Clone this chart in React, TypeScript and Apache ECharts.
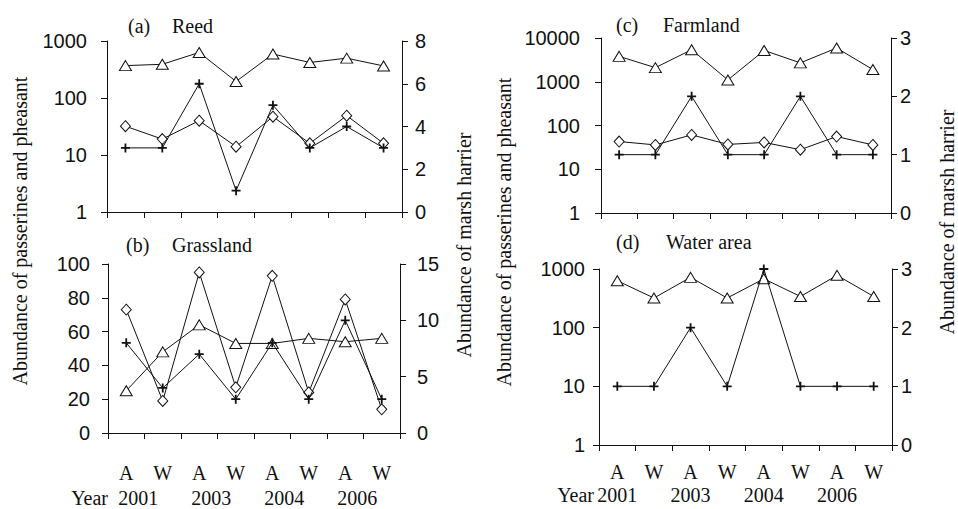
import React, { useEffect, useRef } from 'react';
import * as echarts from 'echarts';

// ---- data ----
const seasons = ['A', 'W', 'A', 'W', 'A', 'W', 'A', 'W'];
const yearLabels = ['2001', '', '2003', '', '2004', '', '2006', ''];
const yearWord = 'Year';

// (a) Reed
const reedTriangle = [370, 390, 630, 195, 590, 420, 500, 365];
const reedDiamond = [32, 19, 40, 14, 47, 16, 49, 16];
const reedPlus = [3, 3, 6, 1, 5, 3, 4, 3];

// (b) Grassland
const grassDiamond = [73, 19, 95, 27, 93, 24, 79, 14];
const grassTriangle = [25, 48, 64, 53, 53, 56, 54, 56];
const grassPlus = [8, 4, 7, 3, 8, 3, 10, 3];

// (c) Farmland
const farmTriangle = [3800, 2100, 5400, 1100, 5200, 2700, 5900, 1900];
const farmDiamond = [43, 36, 61, 37, 41, 28, 56, 36];
const farmPlus = [1, 1, 2, 1, 1, 2, 1, 1];

// (d) Water area
const waterTriangle = [630, 320, 720, 320, 680, 340, 780, 340];
const waterPlus = [1, 1, 2, 1, 3, 1, 1, 1];

const panelTitles = [
  { tag: '(a)', name: 'Reed' },
  { tag: '(b)', name: 'Grassland' },
  { tag: '(c)', name: 'Farmland' },
  { tag: '(d)', name: 'Water area' },
];
const leftAxisName = 'Abundance of passerines and pheasant';
const rightAxisName = 'Abundance of marsh harrier';

const INK = '#111';
const SERIF = 'Liberation Serif';
const SANS = 'Liberation Sans';
const PLUS = 'path://M4,0H6V4H10V6H6V10H4V6H0V4H4Z';

function mkLine(name: string, data: number[], xi: number, yi: number, kind: 'tri' | 'dia' | 'plus') {
  const symbol = kind === 'tri' ? 'triangle' : kind === 'dia' ? 'diamond' : PLUS;
  const symbolSize = kind === 'tri' ? [12, 10] : kind === 'dia' ? [10, 11] : 9;
  return {
    type: 'line',
    name,
    data,
    xAxisIndex: xi,
    yAxisIndex: yi,
    symbol,
    symbolSize,
    showAllSymbol: true,
    lineStyle: { color: INK, width: 1 },
    itemStyle:
      kind === 'plus'
        ? { color: INK, borderWidth: 0 }
        : { color: '#fff', borderColor: INK, borderWidth: 1 },
    emphasis: { disabled: true },
    z: kind === 'plus' ? 4 : 3,
  };
}

function catAxis(gridIndex: number, showLabel: boolean, margin: number) {
  return {
    type: 'category',
    gridIndex,
    data: seasons,
    boundaryGap: true,
    axisLine: { show: true, lineStyle: { color: INK, width: 1 } },
    axisTick: { show: true, length: 6, alignWithLabel: false, lineStyle: { color: INK } },
    axisLabel: {
      show: showLabel,
      interval: 0,
      margin,
      fontFamily: SERIF,
      fontSize: 20,
      lineHeight: 20,
      color: INK,
    },
    splitLine: { show: false },
  };
}

function yearAxis(gridIndex: number, offset: number, pad: number[]) {
  return {
    type: 'category',
    gridIndex,
    data: seasons,
    position: 'bottom',
    offset,
    boundaryGap: true,
    axisLine: { show: false },
    axisTick: { show: false },
    axisLabel: {
      show: true,
      interval: 0,
      margin: 0,
      formatter: (_v: string, i: number) => yearLabels[i],
      fontFamily: SERIF,
      fontSize: 20,
      lineHeight: 20,
      verticalAlign: 'top',
      padding: pad,
      color: INK,
    },
    splitLine: { show: false },
  };
}

function valAxis(
  gridIndex: number,
  kind: 'log' | 'value',
  min: number,
  max: number,
  interval: number | undefined,
  position: 'left' | 'right',
  margin: number
) {
  const ax: any = {
    type: kind,
    gridIndex,
    position,
    min,
    max,
    axisLine: { show: true, lineStyle: { color: INK, width: 1 } },
    axisTick: { show: true, length: 6, lineStyle: { color: INK } },
    axisLabel: {
      margin,
      fontFamily: SANS,
      fontSize: 20,
      color: INK,
      formatter: (v: number) => String(Math.round(v)),
    },
    splitLine: { show: false },
  };
  if (kind === 'log') ax.logBase = 10;
  if (interval !== undefined) ax.interval = interval;
  return ax;
}

function titles() {
  const pos = [
    { l1: 128, l2: 172, top: 16 },
    { l1: 126, l2: 172, top: 235 },
    { l1: 616, l2: 663, top: 15 },
    { l1: 616, l2: 666, top: 232 },
  ];
  const ts = { fontFamily: SERIF, fontSize: 20, fontWeight: 'normal', color: INK, lineHeight: 20 };
  const out: any[] = [];
  panelTitles.forEach((t, i) => {
    out.push({ text: t.tag, left: pos[i].l1, top: pos[i].top, padding: 0, textStyle: ts });
    out.push({ text: t.name, left: pos[i].l2, top: pos[i].top, padding: 0, textStyle: ts });
  });
  return out;
}

function vText(text: string, x: number, y: number) {
  return {
    type: 'text',
    x,
    y,
    rotation: Math.PI / 2,
    silent: true,
    style: {
      text,
      fill: INK,
      fontFamily: SERIF,
      fontSize: 20,
      align: 'center',
      verticalAlign: 'middle',
    },
  };
}

function hText(text: string, x: number, y: number) {
  return {
    type: 'text',
    x,
    y,
    silent: true,
    style: {
      text,
      fill: INK,
      fontFamily: SERIF,
      fontSize: 20,
      align: 'right',
      verticalAlign: 'middle',
    },
  };
}

const option: any = {
  animation: false,
  backgroundColor: '#fff',
  title: titles(),
  grid: [
    { left: 107, top: 41, width: 295, height: 171 },
    { left: 108, top: 264, width: 292, height: 169 },
    { left: 601, top: 38, width: 290, height: 175 },
    { left: 599, top: 269, width: 293, height: 176 },
  ],
  xAxis: [
    catAxis(0, false, 8),
    catAxis(1, true, 30),
    yearAxis(1, 55, [0, 0, 0, 24]),
    catAxis(2, false, 8),
    catAxis(3, true, 17),
    yearAxis(3, 40, [0, 0, 0, 0]),
  ],
  yAxis: [
    valAxis(0, 'log', 1, 1000, undefined, 'left', 20),
    valAxis(0, 'value', 0, 8, 2, 'right', 13),
    valAxis(1, 'value', 0, 100, 20, 'left', 18),
    valAxis(1, 'value', 0, 15, 5, 'right', 17),
    valAxis(2, 'log', 1, 10000, undefined, 'left', 21),
    valAxis(2, 'value', 0, 3, 1, 'right', 9),
    valAxis(3, 'log', 1, 1000, undefined, 'left', 14),
    valAxis(3, 'value', 0, 3, 1, 'right', 9),
  ],
  series: [
    mkLine('Reed passerines', reedTriangle, 0, 0, 'tri'),
    mkLine('Reed pheasant', reedDiamond, 0, 0, 'dia'),
    mkLine('Reed marsh harrier', reedPlus, 0, 1, 'plus'),
    mkLine('Grassland pheasant', grassDiamond, 1, 2, 'dia'),
    mkLine('Grassland passerines', grassTriangle, 1, 2, 'tri'),
    mkLine('Grassland marsh harrier', grassPlus, 1, 3, 'plus'),
    mkLine('Farmland passerines', farmTriangle, 3, 4, 'tri'),
    mkLine('Farmland pheasant', farmDiamond, 3, 4, 'dia'),
    mkLine('Farmland marsh harrier', farmPlus, 3, 5, 'plus'),
    mkLine('Water passerines', waterTriangle, 4, 6, 'tri'),
    mkLine('Water marsh harrier', waterPlus, 4, 7, 'plus'),
  ],
  graphic: [
    vText(leftAxisName, 20, 231),
    vText(rightAxisName, 464, 245),
    vText(leftAxisName, 504, 232),
    vText(rightAxisName, 947, 222),
    hText(yearWord, 108, 498),
    hText(yearWord, 594, 495),
  ],
};

export default function App() {
  const ref = useRef<HTMLDivElement>(null);
  useEffect(() => {
    document.body.style.margin = '0';
    const chart = echarts.init(ref.current as HTMLDivElement, null, { renderer: 'svg' });
    chart.setOption(option);
    return () => chart.dispose();
  }, []);
  return <div ref={ref} style={{ width: 958, height: 509 }} />;
}
